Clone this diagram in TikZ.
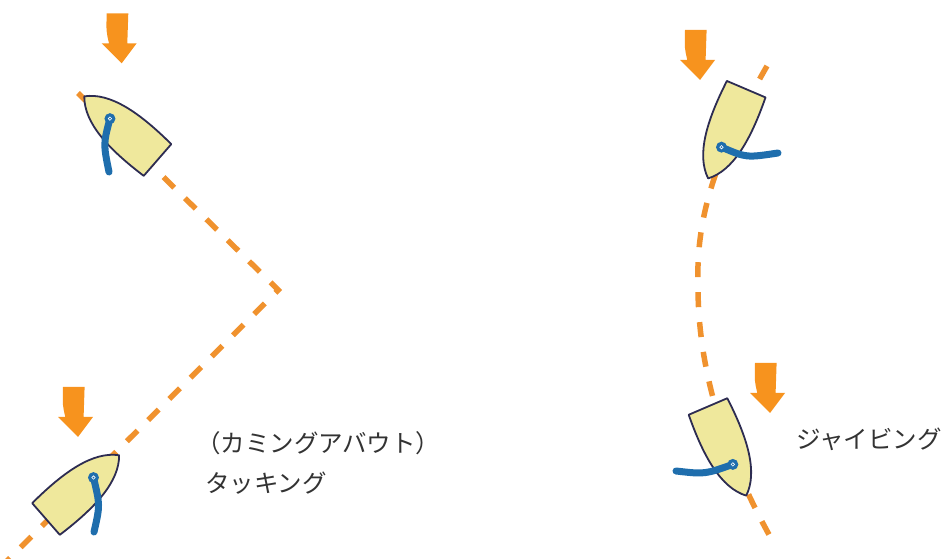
\documentclass[tikz,border=0pt]{standalone}
\usepackage{fontspec}
\newfontfamily\jpfont{Noto Sans CJK JP}
\usepackage{tikz}
\definecolor{hullfill}{HTML}{EFE89C}
\definecolor{hullline}{HTML}{2D2C52}
\definecolor{sheetblue}{HTML}{1F6EAD}
\definecolor{windorange}{HTML}{F7931E}
\definecolor{courseorange}{HTML}{F0922E}
\definecolor{labelgray}{HTML}{333333}

\begin{document}
\begin{tikzpicture}[x=1pt,y=1pt,
  course/.style={draw=courseorange,line width=5.5pt,dash pattern=on 15pt off 15pt},
  sheet/.style={draw=sheetblue,line width=7pt,line cap=round},
  ring/.style={circle,fill=sheetblue,inner sep=0pt,minimum size=11pt},
  jplabel/.style={font=\jpfont\fontsize{24.5pt}{28pt}\selectfont,text=labelgray,inner sep=0pt,anchor=west},
  boat/.pic={
    \draw[fill=hullfill,draw=hullline,line width=1.8pt,line join=round]
      (-21,0) -- (21,0) .. controls (24,45) and (20,80) .. (0,97)
      .. controls (-20,80) and (-24,45) .. (-21,0) -- cycle;
    \coordinate (-mast) at (0,63);
  },
  windarrow/.pic={
    \fill[windorange] (0,0) -- (-20,20) -- (-12.7,20) .. controls (-15.5,32) .. (-15,50)
      -- (6.6,50) .. controls (6.5,35) .. (5.6,20) -- (15,20) -- cycle;
  }]
  \useasboundingbox (0,0) rectangle (947,559);

  \coordinate (tackStart) at (78,466);
  \coordinate (tackTurn) at (278.3,269);
  \coordinate (tackEnd) at (4,-5);
  \coordinate (jibeStart) at (767,493);
  \coordinate (jibeMid) at (698,272);
  \coordinate (jibeEnd) at (772,19);
  \draw[course] (tackStart) -- (tackTurn) -- (tackEnd);
  \draw[course] (jibeStart) .. controls (710,394) and (696,334) .. (jibeMid)
    .. controls (698,204) and (716,119) .. (jibeEnd);

  \pic[rotate=49] (b1) at (157.5,399) {boat};
  \pic[rotate=-48.9] (b2) at (46,40) {boat};
  \pic[rotate=156.9] (b3) at (746.2,469.8) {boat};
  \pic[rotate=-156.8] (b4) at (708,152.5) {boat};

  \draw[sheet] (b1-mast) .. controls (103.3,415.2) .. (109,387);
  \draw[sheet] (b2-mast) .. controls (100.1,53.9) .. (94,27);
  \draw[sheet] (b3-mast) .. controls (746.3,401.2) .. (778,406);
  \draw[sheet] (b4-mast) .. controls (704.8,84.7) .. (676,88);
  \foreach \b in {b1,b2,b3,b4}{
    \node[ring] (\b-ring) at (\b-mast) {};
    \draw[white,line width=0.6pt] (\b-mast) circle (1.7);
  }

  \pic (w1) at (121.7,495.7) {windarrow};
  \pic (w2) at (78,122) {windarrow};
  \pic (w3) at (700,479) {windarrow};
  \pic (w4) at (770,146) {windarrow};

  \node[jplabel] (tackNote) at (196,116) {（カミングアバウト）};
  \node[jplabel] (tackName) at (205,76) {タッキング};
  \node[jplabel] (jibeName) at (796,120) {ジャイビング};
\end{tikzpicture}
\end{document}
